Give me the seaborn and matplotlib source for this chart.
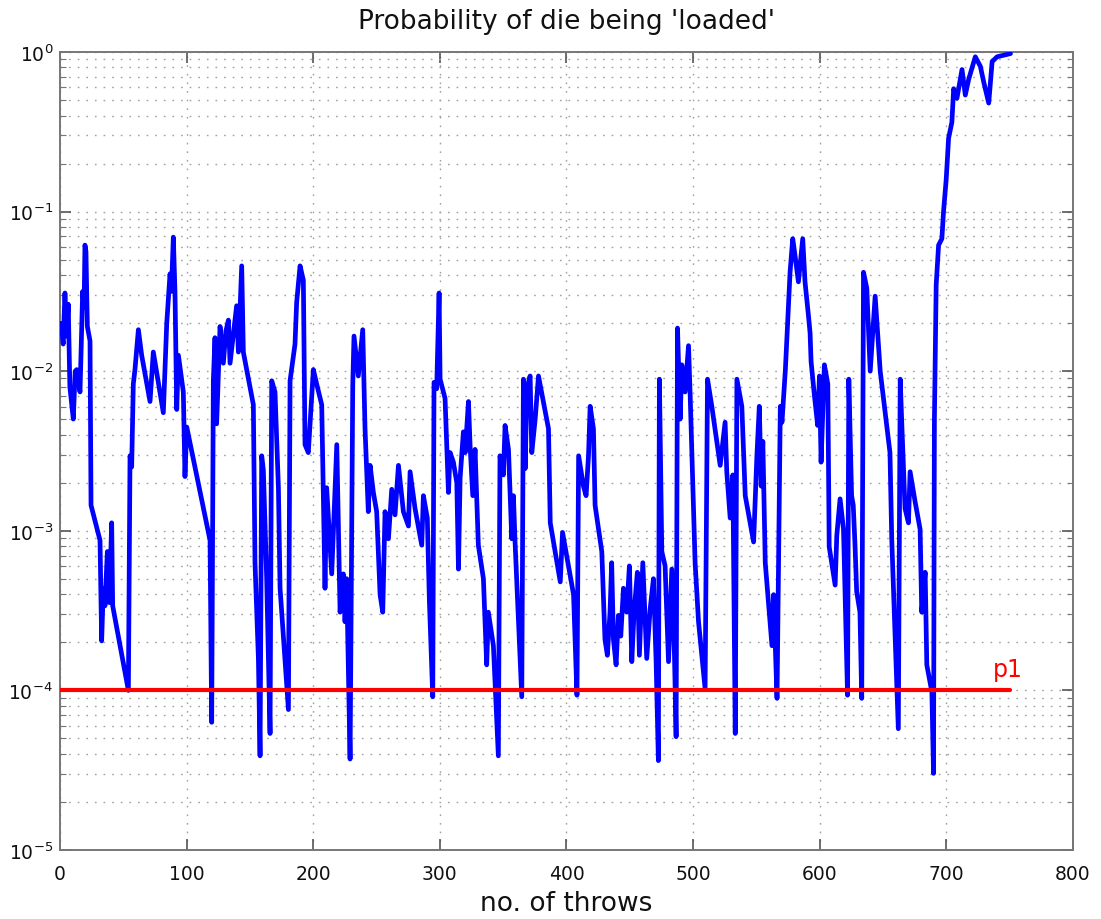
import pandas as pd
import matplotlib
matplotlib.use("Agg")
import matplotlib.pyplot as plt
from matplotlib.ticker import LogLocator, NullFormatter, FixedLocator
import seaborn as sns

# throws / log10(probability), in four stretches
throws_a = [1, 2.5, 3.9, 5.2, 6.5, 7.8, 10.5, 12, 13.2, 15.8,
            17.9, 19, 19.7, 20.5, 21.6, 23.7, 24.5, 31.6, 32.9, 34.2,
            35.5, 37.4, 39, 40.8, 41.6, 54, 55.3, 56.6, 57.9, 59.2,
            61.9, 64.5, 71.1, 73.7, 76.4, 81.6, 84.3, 86.9, 88, 89.5,
            90.8, 92.2, 93.5, 97.4, 98.7, 100.1, 118.5, 119.8, 121.1, 122.4,
            123.7, 126.4, 129, 131, 133, 134.3, 139.5, 140.9, 143.5, 144.8,
            152.7, 154, 156.7, 158, 159.3, 160.6, 163.2, 165.9, 167.2, 169.8,
            172.5, 173.8, 180.4, 181.7, 185.6, 186.9, 189.6, 192.2, 193.5, 196.1,
            200.1, 202.7, 206.7, 209.3, 210.6, 214.6, 218.6, 221.2, 223.8, 225.1,
            226.4, 229.1]
logp_a = [-1.70, -1.83, -1.51, -1.78, -1.58, -2.10, -2.30, -2.00, -1.99, -2.13,
          -1.50, -1.60, -1.21, -1.25, -1.72, -1.81, -2.84, -3.06, -3.69, -3.36,
          -3.47, -3.13, -3.45, -2.95, -3.47, -4.00, -2.53, -2.60, -2.08, -1.99,
          -1.74, -1.90, -2.19, -1.88, -2.01, -2.26, -1.70, -1.39, -1.50, -1.16,
          -1.50, -2.24, -1.90, -2.13, -2.66, -2.35, -3.06, -4.20, -2.06, -1.79,
          -2.33, -1.72, -1.95, -1.75, -1.68, -1.95, -1.59, -1.88, -1.34, -1.88,
          -2.21, -3.20, -3.80, -4.41, -2.53, -2.62, -3.29, -4.27, -2.06, -2.13,
          -2.73, -3.36, -4.12, -2.06, -1.83, -1.57, -1.34, -1.43, -2.46, -2.51,
          -1.99, -2.08, -2.21, -3.36, -2.73, -3.27, -2.46, -3.51, -3.27, -3.57,
          -3.30, -4.43]

throws_b = [231.2, 232.2, 235.6, 239.1, 240.9, 243.5, 244.9, 247.5, 250.1, 252.8,
            254.9, 256.7, 259.4, 262, 264.6, 267.3, 271.2, 275.2, 276.5, 280.4,
            285.7, 287, 290.1, 291.7, 294.4, 295.4, 297.5, 299.4, 300.2, 304.1,
            306.8, 308.1, 310.7, 313.4, 314.7, 316, 318.6, 320, 322.6, 323.9,
            326, 327.8, 330.4, 334.4, 337, 338.3, 342.3, 346.2, 347.5, 350.2,
            351.5, 354.2, 356.8, 358.1, 359.4, 364.7, 366, 367.4, 368.7, 371.3,
            372.6, 375.3, 377.9, 385.8, 387.2, 395.1, 396.9, 405.6, 408.3]
logp_b = [-2.09, -1.78, -2.03, -1.74, -2.36, -2.88, -2.59, -2.76, -2.88, -3.40,
          -3.51, -2.88, -3.05, -2.74, -2.90, -2.59, -2.88, -2.97, -2.63, -2.86,
          -3.09, -2.78, -2.92, -3.43, -4.04, -2.07, -2.11, -1.51, -2.05, -2.17,
          -2.76, -2.51, -2.57, -2.70, -3.24, -2.67, -2.38, -2.51, -2.19, -2.47,
          -2.78, -2.49, -3.09, -3.30, -3.84, -3.51, -3.72, -4.41, -2.53, -2.65,
          -2.34, -2.49, -3.05, -2.78, -3.07, -4.04, -2.05, -2.61, -2.11, -2.03,
          -2.51, -2.30, -2.03, -2.36, -2.95, -3.32, -3.01, -3.40, -4.03]

throws_c = [409.6, 413.4, 415.5, 417.4, 418.7, 421.3, 422.6, 427.9, 430.4, 432.3,
            434.4, 435.7, 437.1, 439.2, 441, 442.9, 445, 447.6, 449.7, 451.6,
            453.4, 456, 457.6, 460.3, 463.4, 466.1, 468.7, 470.8, 472.6, 473.4,
            475.3, 477.9, 480.6, 483.2, 485.3, 486.6, 487.7, 489.8, 491.1, 493.7,
            496.4, 497.7, 501.6, 504.3, 509.5, 511.4, 514.8, 521.4, 525.3, 526.6,
            529.3, 531.4, 533.3, 534.6, 538.5, 541.2, 547.8, 550.4, 552.3, 553.8,
            555.1, 557, 562.3, 563.6, 566.3]
logp_c = [-2.53, -2.72, -2.78, -2.53, -2.22, -2.36, -2.84, -3.13, -3.68, -3.78,
          -3.51, -3.20, -3.68, -3.84, -3.53, -3.66, -3.36, -3.51, -3.22, -3.82,
          -3.51, -3.26, -3.78, -3.20, -3.80, -3.49, -3.30, -3.82, -4.44, -2.05,
          -3.13, -3.22, -3.82, -3.24, -3.78, -4.29, -1.73, -2.30, -1.96, -2.13,
          -1.84, -2.15, -3.20, -3.57, -3.99, -2.05, -2.22, -2.59, -2.32, -2.63,
          -2.92, -2.65, -4.27, -2.05, -2.22, -2.78, -3.07, -2.53, -2.22, -2.72,
          -2.44, -3.20, -3.72, -3.40, -4.05]

throws_d = [568.9, 570.2, 572.9, 574.5, 576.6, 578.7, 580.6, 583.2, 586.6, 588.4,
            591.1, 592.4, 593.2, 595.8, 598.4, 599.8, 601.1, 603.7, 606.4, 607.5,
            612.2, 613.5, 616.1, 618.8, 622, 623, 625.2, 626.5, 627.9, 629.2,
            631.8, 633.2, 634.6, 637.2, 639.9, 643.8, 647.8, 655.5, 656.9, 662.1,
            663.6, 664.8, 667.4, 670.1, 671.4, 675.4, 679.3, 680.6, 683.3, 684.6,
            688.6, 689.9, 690.6, 691.3, 692, 693.9, 696.5, 697.8, 699.9, 701.8,
            704.4, 705.8, 708.4, 712.4, 715, 717.7, 722.9, 726.9, 729.6, 733.5,
            736.2, 740.1, 750.7]
logp_d = [-2.22, -2.32, -1.99, -1.73, -1.38, -1.17, -1.28, -1.44, -1.17, -1.44,
          -1.65, -1.76, -1.94, -2.15, -2.34, -2.03, -2.57, -1.96, -2.08, -3.10,
          -3.34, -3.03, -2.80, -2.99, -4.03, -2.05, -2.78, -2.84, -3.09, -3.38,
          -3.51, -4.05, -1.38, -1.48, -2.00, -1.53, -2.00, -2.51, -3.05, -4.24,
          -2.05, -2.32, -2.86, -2.95, -2.63, -2.82, -2.99, -3.51, -3.26, -3.84,
          -4.01, -4.52, -2.30, -1.90, -1.46, -1.21, -1.17, -1.00, -0.80, -0.54,
          -0.44, -0.23, -0.29, -0.11, -0.27, -0.17, -0.03, -0.09, -0.19, -0.32,
          -0.06, -0.03, -0.01]

# threshold line
p1 = 1e-4
p1_span = [0, 750]

x_ticks = [0, 100, 200, 300, 400, 500, 600, 700, 800]
y_ticks = [1e-5, 1e-4, 1e-3, 1e-2, 1e-1, 1e0]
y_labels = ["$10^{-5}$", "$10^{-4}$", "$10^{-3}$", "$10^{-2}$", "$10^{-1}$", "$10^{0}$"]

df = pd.DataFrame({
    "throws": throws_a + throws_b + throws_c + throws_d,
    "logp": logp_a + logp_b + logp_c + logp_d,
})
df["prob"] = 10 ** df["logp"]
thr = pd.DataFrame({"throws": p1_span, "prob": [p1, p1]})

sns.set_style("ticks")
plt.rcParams["font.family"] = ["DejaVu Sans"]
plt.rcParams["mathtext.fontset"] = "dejavusans"

fig = plt.figure(figsize=(11.01, 9.2), dpi=100)
ax = fig.add_axes([0.0545, 0.075, 0.920, 0.8674])
ax.set_yscale("log")

sns.lineplot(data=df, x="throws", y="prob", ax=ax, color="#0000ff",
             linewidth=3.4, estimator=None, sort=False, zorder=3)
sns.lineplot(data=thr, x="throws", y="prob", ax=ax, color="#ff0000",
             linewidth=3.0, estimator=None, zorder=4)
ax.text(737, 1.23e-4, "p1", color="#ff0000", fontsize=17, va="baseline", ha="left")

ax.set_xlim(0, 800)
ax.set_ylim(1e-5, 1)
ax.xaxis.set_major_locator(FixedLocator(x_ticks))
ax.set_yticks(y_ticks)
ax.set_yticklabels(y_labels)
ax.yaxis.set_minor_locator(LogLocator(base=10, subs=[2, 3, 4, 5, 6, 7, 8, 9], numticks=20))
ax.yaxis.set_minor_formatter(NullFormatter())

grid_kw = dict(color="#a0a0a0", linestyle=(0, (1.2, 5)), linewidth=1.0)
ax.grid(True, which="major", axis="both", **grid_kw)
ax.grid(True, which="minor", axis="y", **grid_kw)
ax.set_axisbelow(True)

for side in ["left", "right", "top", "bottom"]:
    ax.spines[side].set_visible(True)
    ax.spines[side].set_color("#777777")
    ax.spines[side].set_linewidth(1.4)
ax.tick_params(which="major", direction="in", length=8, width=1.2, color="#555555",
               top=True, right=True, labelsize=13.5, labelcolor="#111111")
ax.tick_params(axis="x", which="major", pad=10)
ax.tick_params(axis="y", which="major", pad=5)
ax.tick_params(which="minor", direction="in", length=4, width=0.8, color="#777777",
               left=True, right=True)

ax.set_title("Probability of die being 'loaded'", fontsize=19, pad=17, color="#111111")
ax.set_xlabel("no. of throws", fontsize=19, labelpad=5, color="#111111")
ax.set_ylabel("")

fig.savefig("out.png", dpi=100)
